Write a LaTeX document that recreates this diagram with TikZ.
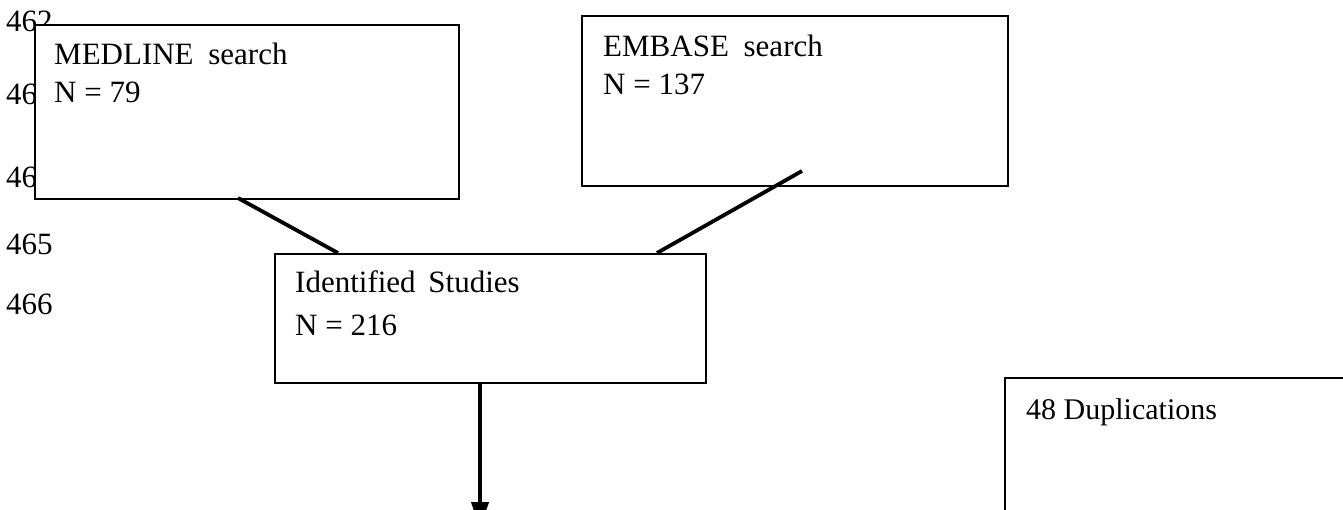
\documentclass[tikz,border=0pt]{standalone}
\usepackage{fontspec}
\setmainfont{Liberation Serif}
\usetikzlibrary{arrows.meta}
\begin{document}
\begin{tikzpicture}[x=1pt,y=-1pt,
  box/.style={draw=black,line width=1.6pt,fill=white,inner sep=0pt,anchor=north west},
  txt/.style={anchor=base west,inner sep=0pt,font=\fontsize{31}{37}\selectfont},
  lnum/.style={anchor=base west,inner sep=0pt,font=\fontsize{31}{37}\selectfont},
  conn/.style={draw=black,line width=3.8pt},
  arr/.style={draw=black,line width=4pt,-{Triangle[width=17pt,length=26pt]}}]
\useasboundingbox (0,0) rectangle (1343,510);
\clip (0,0) rectangle (1343,510);
% line numbers
\node[lnum] (n462) at (6,32) {462};
\node[lnum] (n463) at (6,105) {463};
\node[lnum] (n464) at (6,188) {464};
\node[lnum] (n465) at (6,255) {465};
\node[lnum] (n466) at (6,315) {466};
% boxes
\node[box,minimum width=424pt,minimum height=174pt] (med) at (34,24) {};
\node[box,minimum width=426pt,minimum height=170pt] (emb) at (581,15) {};
\node[box,minimum width=431pt,minimum height=129pt] (ide) at (274,253) {};
\node[box,minimum width=360pt,minimum height=160pt] (dup) at (1004,377) {};
% texts
\node[txt] (t1) at (54,65) {MEDLINE\hspace{7pt} search};
\node[txt] (t2) at (54,103) {N = 79};
\node[txt] (t3) at (603,57) {EMBASE\hspace{7pt} search};
\node[txt] (t4) at (603,95) {N = 137};
\node[txt] (t5) at (295,293) {Identified\hspace{5pt} Studies};
\node[txt] (t6) at (295,335) {N = 216};
\node[txt,font=\fontsize{30}{36}\selectfont] (t7) at (1026,419) {48 Duplications};
% connectors
\coordinate (m1) at (238,198);
\coordinate (m2) at (338,253);
\coordinate (e1) at (802,171);
\coordinate (e2) at (657,253);
\coordinate (a1) at (480,382);
\coordinate (a2) at (480,528);
\draw[conn] (m1) -- (m2);
\draw[conn] (e1) -- (e2);
\draw[arr] (a1) -- (a2);
\end{tikzpicture}
\end{document}
